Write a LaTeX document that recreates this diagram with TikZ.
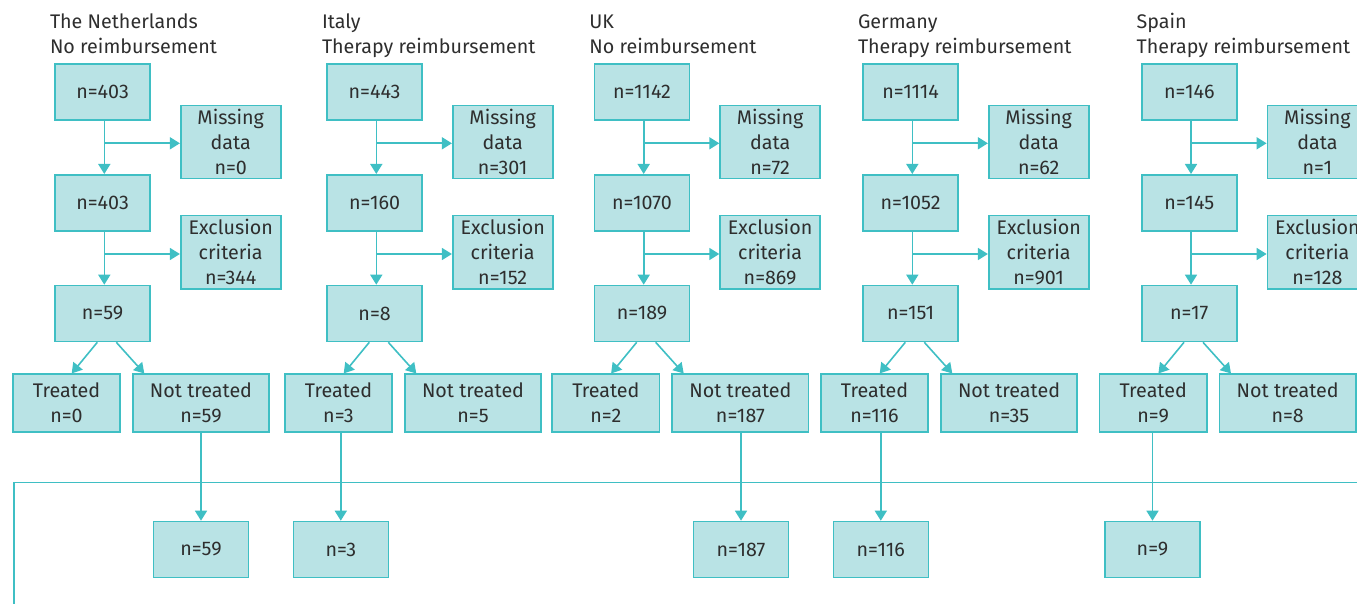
\documentclass[tikz,border=0pt]{standalone}
\usepackage{fontspec}
\setmainfont{Fira Sans}
\usetikzlibrary{arrows.meta,calc}
\definecolor{boxfill}{HTML}{B9E3E5}
\definecolor{boxline}{HTML}{3FBFC4}
\definecolor{txt}{HTML}{2E2E2E}
\begin{document}
\begin{tikzpicture}[x=1pt,y=-1pt,
  box/.style={draw=boxline,fill=boxfill,line width=1.6pt,inner sep=0pt,align=center,text=txt,font=\fontsize{19.7}{25}\selectfont},
  wa/.style={minimum width=95pt,minimum height=56pt},
  wm/.style={minimum width=100pt,minimum height=73pt},
  wt/.style={minimum width=107.5pt,minimum height=57.5pt},
  wn/.style={minimum width=136.5pt,minimum height=57.5pt},
  titletext/.style={anchor=base west,inner sep=0pt,text=txt,font=\fontsize{19.7}{25}\selectfont},
  conn/.style={draw=boxline,line width=1.6pt},
  arr/.style={conn,-{Triangle[width=12pt,length=10pt]}}
]
\useasboundingbox (0,0) rectangle (1357,604);
\clip (0,0) rectangle (1357,604);
\foreach \p/\L/\ta/\tb/\na/\nm/\nb/\ne/\nc/\ntr/\nnt/\src/\bx/\nd in {
 N/54.3/The Netherlands/No reimbursement/403/0/403/344/59/0/59/nt/146.7/59,
 I/326.3/Italy/Therapy reimbursement/443/301/160/152/8/3/5/tr/14.5/3,
 U/593.7/UK/No reimbursement/1142/72/1070/869/189/2/187/nt/147.3/187,
 G/862.3/Germany/Therapy reimbursement/1114/62/1052/901/151/116/35/tr/18.5/116,
 S/1141/Spain/Therapy reimbursement/146/1/145/128/17/9/8/tr/11.5/9}{
  \node[titletext] (\p t1) at (\L-4.5,29) {\ta};
  \node[titletext] (\p t2) at (\L-4.5,54) {\tb};
  \node[box,wa] (\p a) at (\L+48.3,92) {n=\na};
  \node[box,wm] (\p m) at (\L+176.4,142.2) {Missing\\data\\n=\nm};
  \node[box,wa] (\p b) at (\L+48.3,202.8) {n=\nb};
  \node[box,wm] (\p e) at (\L+176.4,252.2) {Exclusion\\criteria\\n=\ne};
  \node[box,wa] (\p c) at (\L+48.3,313.5) {n=\nc};
  \node[box,wt] (\p tr) at (\L+12.2,403) {Treated\\n=\ntr};
  \node[box,wn] (\p nt) at (\L+146.7,403) {Not treated\\n=\nnt};
  \node[box,wa] (\p d) at (\L+\bx,549.5) {n=\nd};
  \coordinate (\p j1) at (\L+50,143.3);
  \coordinate (\p j2) at (\L+50,254);
  \draw[arr] (\p a.south -| \p j1) -- (\p b.north -| \p j1);
  \draw[arr] (\p j1) -- (\p j1 -| \p m.west);
  \draw[arr] (\p b.south -| \p j2) -- (\p c.north -| \p j2);
  \draw[arr] (\p j2) -- (\p j2 -| \p e.west);
  \draw[arr] ([xshift=-5.3pt]\p c.south) -- ([xshift=5.2pt]\p tr.north);
  \draw[arr] ([xshift=13.7pt]\p c.south) -- ([xshift=-56.7pt]\p nt.north);
  \draw[arr] (\p d.north |- \p\src.south) -- (\p d.north);
}
\coordinate (hl) at (13.7,482.3);
\coordinate (hr) at (1357,482.3);
\coordinate (vb) at (13.7,604);
\draw[conn] (vb) -- (hl) -- (hr);
\end{tikzpicture}
\end{document}
